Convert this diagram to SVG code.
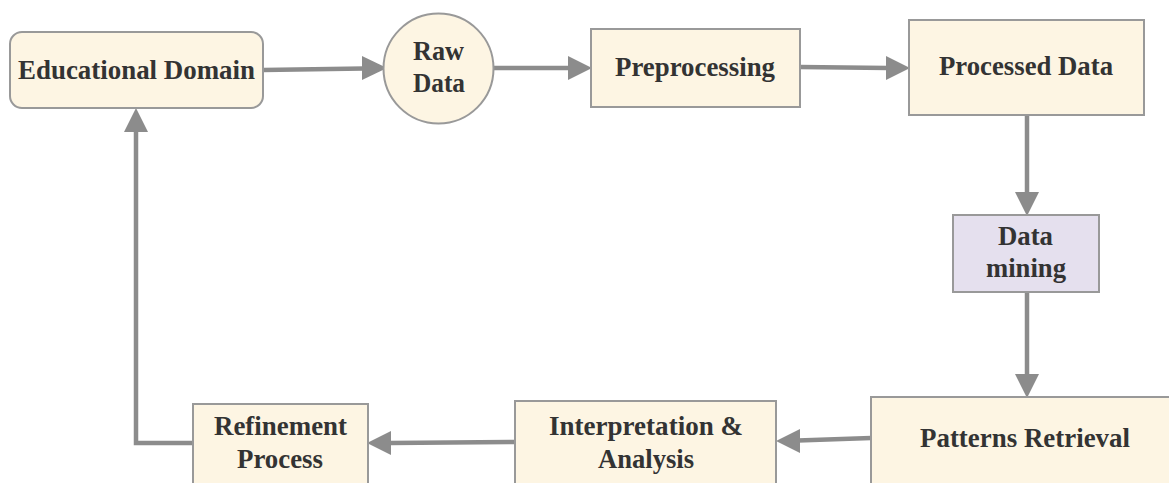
<svg xmlns="http://www.w3.org/2000/svg" width="1169" height="483" viewBox="0 0 1169 483">
<defs>
<style>
.node{fill:#fdf5e3;stroke:#999;stroke-width:2}
.dm{fill:#e5e0ee;stroke:#999;stroke-width:2}
.lbl{font-family:"Liberation Serif","Times New Roman",serif;font-weight:bold;font-size:28px;fill:#333;text-anchor:middle}
.edge{fill:none;stroke:#8c8c8c;stroke-width:4.5}
.head{fill:#8c8c8c}
</style>
</defs>
<rect width="1169" height="483" fill="#fff"/>
<g id="connectors">
<path class="edge" d="M263,70 L364,68.5"/>
<polygon class="head" points="387,68 362,56 362,80"/>
<path class="edge" d="M493,68 L570,68"/>
<polygon class="head" points="592,68 568,56 568,80"/>
<path class="edge" d="M800,67 L888,68"/>
<polygon class="head" points="910,68 886,56 886,80"/>
<path class="edge" d="M1027,115 L1027,194"/>
<polygon class="head" points="1027,216 1015,192 1039,192"/>
<path class="edge" d="M1027,292 L1027,376"/>
<polygon class="head" points="1027,398 1015,374 1039,374"/>
<path class="edge" d="M871,438 L798,440.5"/>
<polygon class="head" points="776,441 800,429 800,453"/>
<path class="edge" d="M515,442 L390,443"/>
<polygon class="head" points="367,443 391,431 391,455"/>
<path class="edge" d="M193,443 L136,443 L136,130"/>
<polygon class="head" points="136,108 124,132 148,132"/>
</g>
<g id="educational-domain">
<rect class="node" x="10" y="32" width="253" height="76" rx="12"/>
<text class="lbl" x="136.5" y="79" textLength="237" lengthAdjust="spacingAndGlyphs">Educational Domain</text>
</g>
<g id="raw-data">
<circle class="node" cx="438.5" cy="68.5" r="55"/>
<text class="lbl" x="438.5" y="60" textLength="51" lengthAdjust="spacingAndGlyphs">Raw</text>
<text class="lbl" x="439" y="92" textLength="52" lengthAdjust="spacingAndGlyphs">Data</text>
</g>
<g id="preprocessing">
<rect class="node" x="591" y="29" width="209" height="78"/>
<text class="lbl" x="695" y="76" textLength="160" lengthAdjust="spacingAndGlyphs">Preprocessing</text>
</g>
<g id="processed-data">
<rect class="node" x="909" y="20" width="235" height="95"/>
<text class="lbl" x="1026" y="75" textLength="174" lengthAdjust="spacingAndGlyphs">Processed Data</text>
</g>
<g id="data-mining">
<rect class="dm" x="953" y="215" width="146" height="77"/>
<text class="lbl" x="1025.5" y="245" textLength="55" lengthAdjust="spacingAndGlyphs">Data</text>
<text class="lbl" x="1026" y="277" textLength="80" lengthAdjust="spacingAndGlyphs">mining</text>
</g>
<g id="patterns-retrieval">
<rect class="node" x="871" y="397" width="300" height="90"/>
<text class="lbl" x="1025" y="447" textLength="210" lengthAdjust="spacingAndGlyphs">Patterns Retrieval</text>
</g>
<g id="interpretation-analysis">
<rect class="node" x="515" y="401" width="261" height="86"/>
<text class="lbl" x="646" y="435" textLength="194" lengthAdjust="spacingAndGlyphs">Interpretation &amp;</text>
<text class="lbl" x="646" y="468" textLength="96" lengthAdjust="spacingAndGlyphs">Analysis</text>
</g>
<g id="refinement-process">
<rect class="node" x="193" y="404" width="175" height="83"/>
<text class="lbl" x="280.5" y="435" textLength="133" lengthAdjust="spacingAndGlyphs">Refinement</text>
<text class="lbl" x="280" y="468" textLength="86" lengthAdjust="spacingAndGlyphs">Process</text>
</g>
</svg>
